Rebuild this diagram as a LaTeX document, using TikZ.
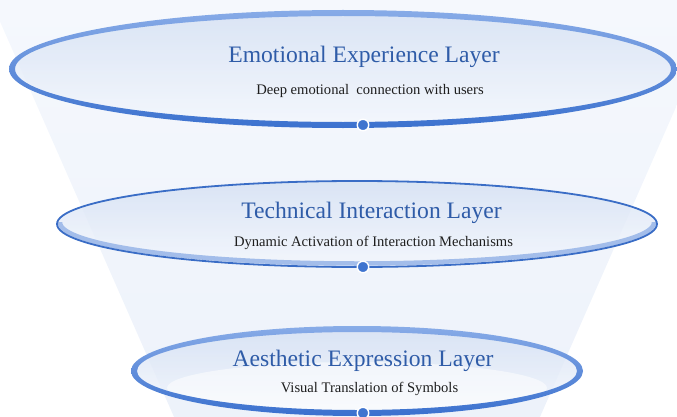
\documentclass[tikz,border=0pt]{standalone}
\usepackage{fontspec}
\setmainfont{Liberation Serif}
\usetikzlibrary{calc}
\definecolor{titleblue}{HTML}{2F5CA8}
\definecolor{subgray}{HTML}{1E1E1E}
\definecolor{funneltop}{HTML}{F5F8FD}
\definecolor{funnelbot}{HTML}{EDF2FA}
\definecolor{ringlight}{HTML}{8AADE8}
\definecolor{ringdark}{HTML}{3A70CE}
\definecolor{rimline}{HTML}{3A6DC6}
\definecolor{rimband}{HTML}{A3BDEA}
\definecolor{discfill}{HTML}{D4E0F3}
\definecolor{discpale}{HTML}{F4F7FD}
\definecolor{knobblue}{HTML}{3F74CF}
\begin{document}
\begin{tikzpicture}[x=1pt,y=1pt,
  layertitle/.style={font=\fontsize{23.6}{26}\selectfont, text=titleblue, anchor=base, inner sep=0pt},
  layernote/.style={font=\fontsize{14.6}{17}\selectfont, text=subgray, anchor=base, inner sep=0pt},
  knob/.style={circle, fill=knobblue, draw=white, line width=1.4pt, minimum size=11.5pt, inner sep=0pt},
  disc/.style={top color=discfill, bottom color=discpale, fill opacity=0.8}]
\useasboundingbox (0,0) rectangle (677,416);
\clip (0,0) rectangle (677,416);

% ellipse centres
\coordinate (c1) at (343,347);
\coordinate (c2) at (357,192);
\coordinate (c3) at (357,45);

% funnel behind the layers
\shade[top color=funneltop, bottom color=funnelbot]
  (-9.5,416) -- (723,416) -- (536,-10) -- (178,-10) -- cycle;

% ---- top layer: thick graded rim
\shade[disc] (c1) ellipse [x radius=331, y radius=56];
\begin{scope}[even odd rule]
  \clip (c1) ellipse [x radius=334, y radius=59]
        (c1) ellipse [x radius=328, y radius=53];
  \shade[top color=ringlight, bottom color=ringdark]
    (0,285) rectangle (677,410);
\end{scope}

% ---- middle layer: thin rim with a light inner band hugging its lower half
\shade[disc] (c2) ellipse [x radius=300, y radius=43];
\begin{scope}
  \clip (0,0) rectangle (677,194);
  \draw[rimband, line width=4.5pt] ($(c2)+(0,1.5)$) ellipse [x radius=297, y radius=41];
\end{scope}
\draw[rimline, line width=1.8pt] (c2) ellipse [x radius=300, y radius=43];

% ---- bottom layer: thick graded rim with a pale inner glow
\shade[disc] (c3) ellipse [x radius=223, y radius=42];
\begin{scope}
  \clip (c3) ellipse [x radius=220, y radius=39];
  \fill[white, opacity=0.55] (357,28) ellipse [x radius=190, y radius=26];
\end{scope}
\begin{scope}[even odd rule]
  \clip (c3) ellipse [x radius=226, y radius=45]
        (c3) ellipse [x radius=220, y radius=39];
  \shade[top color=ringlight, bottom color=ringdark]
    (100,0) rectangle (600,92);
\end{scope}

% knobs on the lower rims
\node[knob] (k1) at (363,291) {};
\node[knob] (k2) at (363,149) {};
\node[knob] (k3) at (363,3) {};

% labels
\node[layertitle] (t1) at (364,353) {Emotional Experience Layer};
\node[layernote]  (n1) at (370,322) {Deep emotional\ \ connection with users};
\node[layertitle] (t2) at (371.5,198) {Technical Interaction Layer};
\node[layernote]  (n2) at (373.5,170) {Dynamic Activation of Interaction Mechanisms};
\node[layertitle] (t3) at (363,50) {Aesthetic Expression Layer};
\node[layernote]  (n3) at (369.5,24) {Visual Translation of Symbols};
\end{tikzpicture}
\end{document}
